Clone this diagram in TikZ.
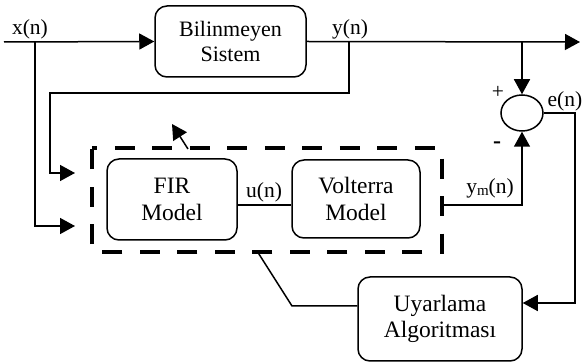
\documentclass[tikz,border=0pt]{standalone}
\usepackage{fontspec}
\setmainfont{Liberation Serif}
\usetikzlibrary{arrows.meta,shapes.geometric}

\begin{document}
\begin{tikzpicture}[x=1pt,y=-1pt,line width=1.5pt,
  block/.style={draw,rounded corners=12pt,align=center,inner sep=0pt,
    font=\fontsize{23.5}{26.5}\selectfont},
  lbl/.style={inner sep=0pt,font=\fontsize{21.5}{25}\selectfont},
  arr/.style={-{Triangle[length=15pt,width=16pt]}},
  dashbox/.style={line width=4pt,dash pattern=on 20pt off 17.5pt,dash phase=15pt}]
\useasboundingbox (0,0) rectangle (582,363);

% blocks
\node[block,minimum width=151pt,minimum height=71pt,
  font=\fontsize{22}{25}\selectfont] (bil) at (230.5,41.5) {Bilinmeyen\\Sistem};
\node[block,minimum width=130pt,minimum height=81pt] (fir) at (172,199.5) {FIR\\Model};
\node[block,minimum width=128pt,minimum height=78pt] (vol) at (356,199) {Volterra\\Model};
\node[block,minimum width=164pt,minimum height=84pt] (uya) at (440,319) {Uyarlama\\Algoritması};
\node[draw,ellipse,inner sep=0pt,minimum width=42pt,minimum height=36pt] (sum) at (522,113) {};

% adaptive model frame
\node[inner sep=0pt,minimum width=348pt,minimum height=102pt] (dbox) at (267,200) {};
\draw[dashbox] (dbox.north west) -- (dbox.north east) -- (dbox.south east)
  -- (dbox.south west) -- cycle;

% auxiliary points
\coordinate (xin) at (4,42);
\coordinate (xb) at (35,42);
\coordinate (t1) at (75,226);
\coordinate (yb) at (349,42);
\coordinate (yc) at (50,93);
\coordinate (t2) at (75,173);
\coordinate (yout) at (580,42);
\coordinate (sb) at (522,42);
\coordinate (ym) at (441,205);
\coordinate (ec) at (575,303);
\coordinate (d1) at (188,149);
\coordinate (d2) at (172,124);
\coordinate (bl) at (257,251);
\coordinate (bk) at (292,306);

% signal paths
\draw[arr] (xin) -- (bil.west);
\draw[arr] (xb) |- (t1);
\draw[arr] (bil.east) -- (yout);
\draw[arr] (yb) |- (yc) |- (t2);
\draw[arr] (sb) -- (sum.north);
\draw[arr] (ym) -| (sum.south);
\draw[arr] (sum.east) -| (ec) -- ([yshift=16pt]uya.east);
\draw ([yshift=-5.5pt]fir.east) -- ([yshift=-6pt]vol.west);
\draw[arr] (d1) -- (d2);
\draw (bl) -- (bk) -- ([yshift=13pt]uya.west);

% labels
\node[lbl] (lx) at (30,29) {x(n)};
\node[lbl] (ly) at (350,29) {y(n)};
\node[lbl] (lp) at (498,92) {+};
\node[lbl] (le) at (565,101) {e(n)};
\node[lbl,font=\fontsize{24}{25}\bfseries] (lm) at (497,145) {-};
\node[lbl] (lym) at (490,188) {y\raisebox{-2pt}{\fontsize{15}{15}\selectfont m}(n)};
\node[lbl] (lu) at (264,192) {u(n)};
\end{tikzpicture}
\end{document}
